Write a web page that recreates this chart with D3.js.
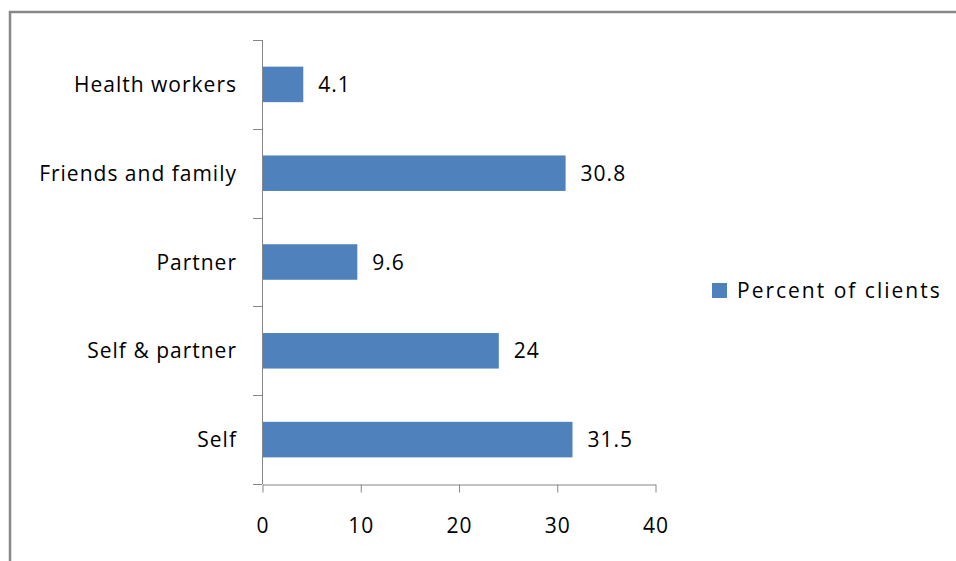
<!DOCTYPE html>
<html>
<head>
<meta charset="utf-8">
<script src="https://cdn.jsdelivr.net/npm/d3@7"></script>
<style>
  body { margin: 0; background: #fff; }
  svg { display: block; }
</style>
</head>
<body>
<svg id="chart" width="956" height="561"></svg>
<script>
// categories top to bottom, as in the picture
const categories = ["Health workers", "Friends and family", "Partner", "Self & partner", "Self"]
const values = [4.1, 30.8, 9.6, 24, 31.5]
const xTicks = [0, 10, 20, 30, 40]
const seriesName = "Percent of clients"

const barColor = "#4F81BD"
const axisColor = "#868686"
const fontFamily = "'Open Sans', 'Noto Sans', sans-serif"
const fontSize = "21px"

const svg = d3.select("#chart")

// outer frame, runs off the right and bottom edges
svg.append("rect")
    .attr("x", 10).attr("y", 12)
    .attr("width", 1000).attr("height", 600)
    .attr("fill", "none")
    .attr("stroke", "#888")
    .attr("stroke-width", 2.5)

const plot = { left: 262, right: 655, top: 40, bottom: 484 }

const x = d3.scaleLinear()
    .domain([0, 40])
    .range([plot.left, plot.right])

const y = d3.scaleBand()
    .domain(categories)
    .range([plot.top, plot.bottom])
    .paddingInner(0.6)
    .paddingOuter(0.3)

// y axis: line + ticks at band boundaries
const bandStep = (plot.bottom - plot.top) / categories.length
const g = svg.append("g")
g.append("line")
    .attr("x1", plot.left + 0.5).attr("x2", plot.left + 0.5)
    .attr("y1", plot.top).attr("y2", plot.bottom)
    .attr("stroke", axisColor)
d3.range(categories.length + 1).forEach(i => {
    const yy = Math.round(plot.top + i * bandStep) + 0.5
    g.append("line")
        .attr("x1", plot.left - 9).attr("x2", plot.left)
        .attr("y1", yy).attr("y2", yy)
        .attr("stroke", axisColor)
})

// x axis
const xAxis = d3.axisBottom(x)
    .tickValues(xTicks)
    .tickSize(8)
    .tickSizeOuter(0)
    .tickPadding(26)
const gx = svg.append("g")
    .attr("transform", `translate(0.5,${plot.bottom + 0.5})`)
    .call(xAxis)
gx.select(".domain").attr("stroke", axisColor)
gx.selectAll(".tick line").attr("stroke", axisColor)
gx.selectAll(".tick text")
    .attr("fill", "#000")
    .style("font-family", fontFamily)
    .style("font-size", fontSize)
    .style("letter-spacing", "1px")

// bars
svg.selectAll(".bar")
    .data(values)
    .join("rect")
    .attr("class", "bar")
    .attr("x", plot.left + 1)
    .attr("y", (d, i) => y(categories[i]))
    .attr("width", d => x(d) - plot.left)
    .attr("height", y.bandwidth())
    .attr("fill", barColor)

// value labels
svg.selectAll(".val")
    .data(values)
    .join("text")
    .attr("class", "val")
    .attr("x", d => x(d) + 16)
    .attr("y", (d, i) => y(categories[i]) + y.bandwidth() / 2)
    .attr("dy", "0.36em")
    .style("font-family", fontFamily)
    .style("font-size", fontSize)
    .style("letter-spacing", "1px")
    .text(d => d)

// category labels
svg.selectAll(".cat")
    .data(categories)
    .join("text")
    .attr("class", "cat")
    .attr("x", 237)
    .attr("y", d => y(d) + y.bandwidth() / 2)
    .attr("dy", "0.36em")
    .attr("text-anchor", "end")
    .style("font-family", fontFamily)
    .style("font-size", fontSize)
    .style("letter-spacing", "1px")
    .text(d => d)

// legend
const legend = svg.append("g").attr("transform", "translate(712,283)")
legend.append("rect")
    .attr("width", 15).attr("height", 15)
    .attr("fill", barColor)
legend.append("text")
    .attr("x", 25).attr("y", 7.5)
    .attr("dy", "0.36em")
    .style("font-family", fontFamily)
    .style("font-size", fontSize)
    .style("letter-spacing", "2px")
    .text(seriesName)
</script>
</body>
</html>
